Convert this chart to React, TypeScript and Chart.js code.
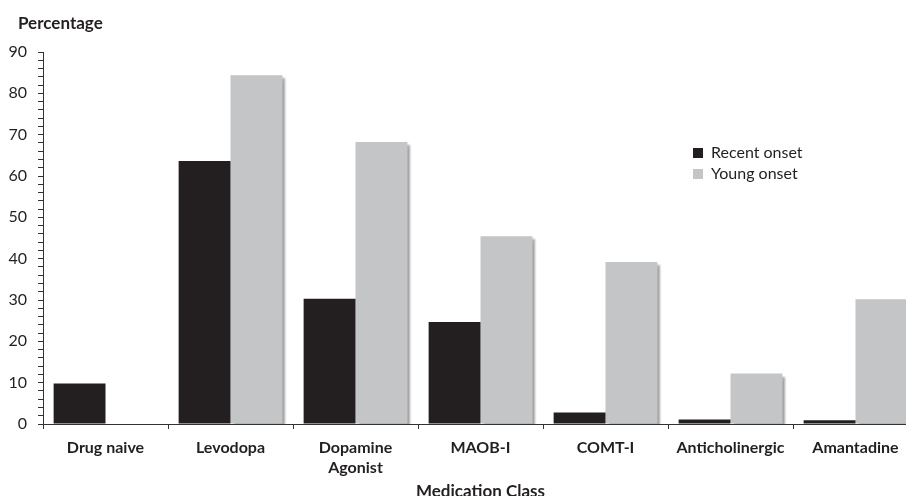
import React, { useEffect, useRef } from "react";
import { Chart, registerables } from "chart.js";

Chart.register(...registerables);

const categories: (string | string[])[] = [
  "Drug naive",
  "Levodopa",
  ["Dopamine", "Agonist"],
  "MAOB-I",
  "COMT-I",
  "Anticholinergic",
  "Amantadine",
];
const seriesNames = ["Recent onset", "Young onset"];
const recentOnset = [9.8, 63.6, 30.3, 24.7, 2.8, 1.1, 0.9];
const youngOnset = [0, 84.4, 68.2, 45.4, 39.2, 12.2, 30.2];
const yMin = 0;
const yMax = 90;
const yMinorStep = 2;
const yLabelStep = 10;
const yTitle = "Percentage";
const xTitle = "Medication Class";

const FONT = "Lato, 'Open Sans', sans-serif";
const TEXT = "#231f20";

const shadowPlugin = {
  id: "barShadow",
  beforeDatasetDraw(chart: any, args: any) {
    if (args.index !== 1) return;
    const ctx = chart.ctx;
    ctx.save();
    ctx.shadowColor = "rgba(0,0,0,0.35)";
    ctx.shadowOffsetX = 3;
    ctx.shadowOffsetY = 3;
    ctx.shadowBlur = 2;
  },
  afterDatasetDraw(chart: any, args: any) {
    if (args.index !== 1) return;
    chart.ctx.restore();
  },
};

const boxPlacer = {
  id: "boxPlacer",
  afterLayout(chart: any) {
    const lg = chart.legend;
    if (lg) {
      const w = lg.width;
      const h = lg.height;
      lg.left = 688;
      lg.top = 140;
      lg.right = lg.left + w;
      lg.bottom = lg.top + h;
    }
    const tb = chart.titleBlock;
    if (tb) {
      tb.left = 18;
    }
  },
};

export default function App() {
  const ref = useRef<HTMLCanvasElement>(null);

  useEffect(() => {
    if (!ref.current) return;
    const chart = new Chart(ref.current, {
      type: "bar",
      data: {
        labels: categories,
        datasets: [
          {
            label: seriesNames[0],
            data: recentOnset,
            backgroundColor: "#231f20",
            borderWidth: 0,
            categoryPercentage: 0.83,
            barPercentage: 1,
          },
          {
            label: seriesNames[1],
            data: youngOnset,
            backgroundColor: "#c4c5c7",
            borderWidth: 0,
            categoryPercentage: 0.83,
            barPercentage: 1,
          },
        ],
      },
      options: {
        animation: false,
        responsive: true,
        maintainAspectRatio: false,
        layout: { padding: { left: 0, right: 12, top: 0, bottom: 0 } },
        plugins: {
          tooltip: { enabled: false },
          title: {
            display: true,
            text: yTitle,
            align: "start",
            color: TEXT,
            font: { family: FONT, size: 17, weight: "bold", lineHeight: 1.2 },
            padding: { top: 13, bottom: 18.6 },
          },
          legend: {
            display: true,
            position: "chartArea",
            align: "start",
            labels: {
              boxWidth: 10,
              boxHeight: 10,
              padding: 5,
              color: TEXT,
              font: { family: FONT, size: 16 },
            },
          },
        },
        scales: {
          x: {
            grid: {
              offset: true,
              drawOnChartArea: false,
              drawTicks: true,
              tickLength: 5,
              color: "#333",
            },
            border: { display: true, color: "#333", width: 1 },
            ticks: {
              color: TEXT,
              autoSkip: false,
              maxRotation: 0,
              padding: 9,
              font: { family: FONT, size: 16, weight: "bold", lineHeight: 1.25 },
            },
            title: {
              display: true,
              text: xTitle,
              color: TEXT,
              font: { family: FONT, size: 17, weight: "bold", lineHeight: 1 },
              padding: { top: 0, bottom: 0 },
            },
            afterFit: (scale: any) => {
              scale.height = 76;
            },
          },
          y: {
            min: yMin,
            max: yMax,
            grid: {
              drawOnChartArea: false,
              drawTicks: true,
              tickLength: 5,
              color: "#333",
            },
            border: { display: true, color: "#333", width: 1 },
            ticks: {
              stepSize: yMinorStep,
              autoSkip: false,
              color: TEXT,
              padding: 11,
              font: { family: FONT, size: 16 },
              callback: (v: any) => (Number(v) % yLabelStep === 0 ? String(v) : ""),
            },
            afterFit: (scale: any) => {
              scale.width = 43;
            },
          },
        },
      },
      plugins: [shadowPlugin, boxPlacer],
    } as any);
    return () => chart.destroy();
  }, []);

  return (
    <div
      style={{
        position: "absolute",
        left: 0,
        top: 0,
        width: 906,
        height: 496,
        overflow: "hidden",
        background: "#fff",
      }}
    >
      <div style={{ position: "relative", width: 930, height: 500 }}>
        <canvas ref={ref} />
      </div>
    </div>
  );
}
